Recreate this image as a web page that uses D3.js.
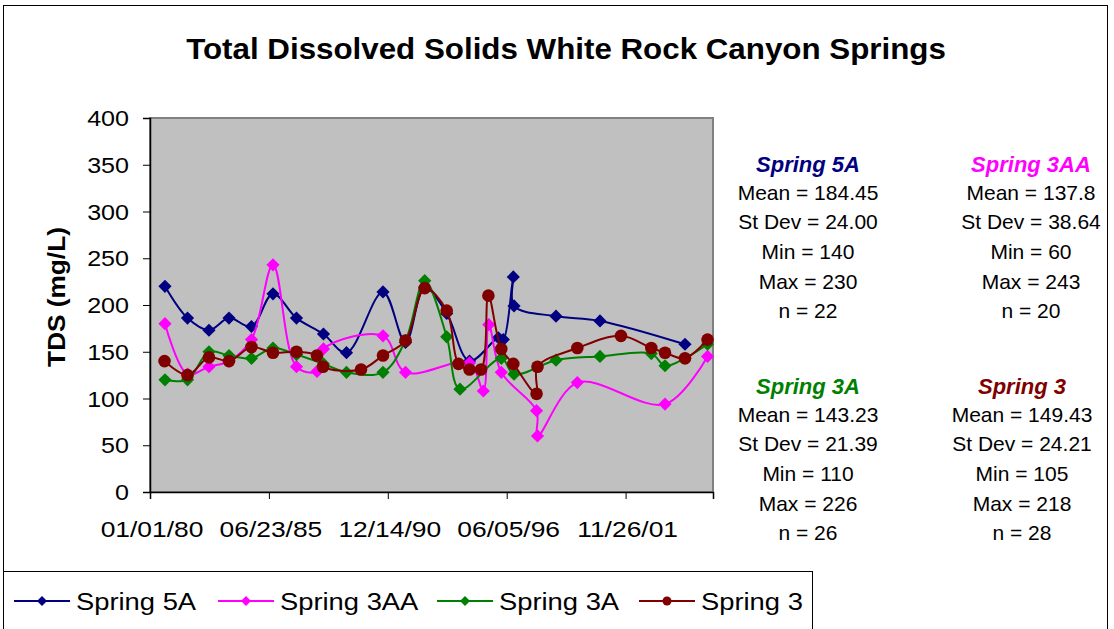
<!DOCTYPE html>
<html>
<head>
<meta charset="utf-8">
<style>
  body { margin: 0; background: #fff; }
  svg { display: block; font-family: "Liberation Sans", Arial, sans-serif; }
</style>
</head>
<body>
<svg id="chart"></svg>
<script src="https://d3js.org/d3.v7.min.js"></script>
<script>

// ---- data ----
const seriesNames = ["Spring 5A", "Spring 3AA", "Spring 3A", "Spring 3"];
const seriesColors = ["#000080", "#ff00ff", "#008000", "#800000"];
const seriesShapes = ["diamond", "diamond", "diamond", "circle"];

const spring5A = [
  ["1980-09-09", 220], ["1981-09-23", 186], ["1982-09-19", 173], ["1983-08-22", 186],
  ["1984-09-03", 177], ["1985-08-31", 212], ["1986-09-30", 186], ["1987-12-28", 169],
  ["1989-01-18", 149], ["1990-09-24", 214], ["1991-10-08", 160], ["1992-08-26", 219],
  ["1993-08-31", 191], ["1994-09-18", 140], ["1996-01-16", 165], ["1996-04-09", 163],
  ["1996-09-24", 230], ["1996-10-06", 199], ["1998-09-12", 188], ["2000-09-21", 183],
  ["2004-08-21", 158]
];
const spring3AA = [
  ["1980-09-09", 180], ["1981-09-23", 126], ["1982-09-19", 134], ["1983-08-22", 140],
  ["1984-09-03", 163], ["1985-08-31", 243], ["1986-09-30", 134], ["1987-09-10", 129],
  ["1987-12-28", 153], ["1990-09-24", 167], ["1991-10-08", 128], ["1994-09-18", 138],
  ["1995-05-09", 108], ["1995-08-09", 179], ["1996-03-06", 128], ["1997-10-20", 87],
  ["1997-11-05", 60], ["1999-09-06", 117], ["2003-09-20", 94], ["2005-09-04", 145]
];
const spring3A = [
  ["1980-09-09", 120], ["1981-09-23", 120], ["1982-09-19", 150], ["1983-08-22", 146],
  ["1984-09-03", 143], ["1985-08-31", 154], ["1986-09-30", 147], ["1987-12-28", 137],
  ["1989-01-18", 128], ["1990-09-24", 128], ["1991-10-08", 162], ["1992-08-26", 226],
  ["1993-08-31", 166], ["1994-04-11", 110], ["1996-03-06", 143], ["1996-10-06", 126],
  ["1998-09-12", 141], ["2000-09-21", 145], ["2003-02-01", 148], ["2003-09-20", 135],
  ["2004-08-21", 143], ["2005-09-04", 158]
];
const spring3 = [
  ["1980-09-01", 140], ["1981-09-23", 125], ["1982-09-19", 144], ["1983-08-22", 140],
  ["1984-09-03", 155], ["1985-08-31", 149], ["1986-09-30", 150], ["1987-09-10", 146],
  ["1987-12-20", 134], ["1989-09-19", 131], ["1990-09-24", 146], ["1991-10-08", 162],
  ["1992-08-26", 218], ["1993-08-31", 194], ["1994-03-17", 137], ["1994-09-18", 131],
  ["1995-03-31", 131], ["1995-08-02", 210], ["1996-03-06", 153], ["1996-09-24", 137],
  ["1997-10-20", 105], ["1997-11-05", 134], ["1999-09-06", 154], ["2001-09-09", 167],
  ["2003-02-01", 154], ["2003-09-20", 149], ["2004-08-21", 143], ["2005-09-04", 163]
];
const allSeries = [spring5A, spring3AA, spring3A, spring3];

const statLabels = ["Mean", "St Dev", "Min", "Max", "n"];
const spring5AStats = ["184.45", "24.00", "140", "230", "22"];
const spring3AAStats = ["137.8", "38.64", "60", "243", "20"];
const spring3AStats = ["143.23", "21.39", "110", "226", "26"];
const spring3Stats = ["149.43", "24.21", "105", "218", "28"];

const xDomain = ["1980-01-01", "2005-12-05"];
const xTicks = ["1980-01-01", "1985-06-23", "1990-12-14", "1996-06-05", "2001-11-26"];
const yTicks = [0, 50, 100, 150, 200, 250, 300, 350, 400];

// ---- layout ----
const width = 1114, height = 629;
const plot = {left: 150, right: 713, top: 118, bottom: 492};
const kx = 1.14;   // excel text looks a bit stretched sideways

const parse = d3.utcParse("%Y-%m-%d");
const fmt = d3.utcFormat("%m/%d/%y");

const svg = d3.select("#chart")
    .attr("width", width)
    .attr("height", height);

// outer chart frame
svg.append("rect")
    .attr("x", 3.5).attr("y", 5.5)
    .attr("width", 1104).attr("height", 640)
    .attr("fill", "#fff")
    .attr("stroke", "#000");

svg.append("text")
    .attr("transform", `translate(566,59) scale(1.08,1)`)
    .attr("text-anchor", "middle")
    .attr("font-size", 29)
    .attr("font-weight", "bold")
    .text("Total Dissolved Solids White Rock Canyon Springs");

let x = d3.scaleUtc()
    .domain(xDomain.map(parse))
    .range([plot.left, plot.right]);

let y = d3.scaleLinear()
    .domain([0, 400])
    .range([plot.bottom, plot.top]);

svg.append("rect")
    .attr("x", plot.left).attr("y", plot.top)
    .attr("width", plot.right - plot.left)
    .attr("height", plot.bottom - plot.top)
    .attr("fill", "#c0c0c0")
    .attr("stroke", "#808080")
    .attr("stroke-width", 2);

// y axis
let yAxis = svg.append("g")
    .attr("transform", `translate(${plot.left},0)`)
    .call(d3.axisLeft(y).tickValues(yTicks).tickSize(7).tickFormat(""));
yAxis.select(".domain").attr("stroke", "#000").attr("stroke-width", 1.5);

svg.append("g").selectAll("text")
    .data(yTicks)
    .enter()
    .append("text")
    .attr("transform", d => `translate(129,${y(d) + 8}) scale(${kx},1)`)
    .attr("text-anchor", "end")
    .attr("font-size", 22)
    .text(d => d);

// x axis
let xAxis = svg.append("g")
    .attr("transform", `translate(0,${plot.bottom})`)
    .call(d3.axisBottom(x).tickValues(xTicks.map(parse)).tickSize(7).tickFormat(""));
xAxis.select(".domain").attr("stroke", "#000").attr("stroke-width", 1.5);

svg.append("g").selectAll("text")
    .data(xTicks.map(parse))
    .enter()
    .append("text")
    .attr("transform", d => `translate(${x(d) + 2},537) scale(1.2,1)`)
    .attr("text-anchor", "middle")
    .attr("font-size", 22)
    .text(d => fmt(d));

svg.append("text")
    .attr("transform", `translate(65,297) rotate(-90) scale(${kx},1)`)
    .attr("text-anchor", "middle")
    .attr("font-size", 23)
    .attr("font-weight", "bold")
    .text("TDS (mg/L)");

function marker(sel, shape, r) {
  if (shape === "circle") {
    sel.append("circle").attr("r", r);
  } else {
    sel.append("path").attr("d", `M0,${-r}L${r},0L0,${r}L${-r},0Z`);
  }
}

let line = d3.line()
    .x(d => x(parse(d[0])))
    .y(d => y(d[1]))
    .curve(d3.curveCatmullRom.alpha(0.5));

allSeries.forEach((data, i) => {
  let g = svg.append("g").attr("fill", seriesColors[i]);
  g.append("path")
      .attr("d", line(data))
      .attr("fill", "none")
      .attr("stroke", seriesColors[i])
      .attr("stroke-width", 2);
  g.selectAll("g")
      .data(data)
      .enter()
      .append("g")
      .attr("transform", d => `translate(${x(parse(d[0]))},${y(d[1])})`)
      .each(function() { marker(d3.select(this), seriesShapes[i], seriesShapes[i] === "circle" ? 6.3 : 6.6); });
});

// stats boxes
const statBlocks = [
  {stats: spring5AStats, cx: 808, top: 172},
  {stats: spring3AAStats, cx: 1031, top: 172},
  {stats: spring3AStats, cx: 808, top: 394},
  {stats: spring3Stats, cx: 1022, top: 394}
];
statBlocks.forEach((b, i) => {
  let g = svg.append("g").attr("text-anchor", "middle");
  g.append("text")
      .attr("x", b.cx).attr("y", b.top)
      .attr("font-size", 22)
      .attr("font-weight", "bold")
      .attr("font-style", "italic")
      .attr("fill", seriesColors[i])
      .text(seriesNames[i]);
  g.selectAll(".stat")
      .data(b.stats)
      .enter()
      .append("text")
      .attr("class", "stat")
      .attr("x", b.cx)
      .attr("y", (d, j) => b.top + 27.5 + j * 29.7)
      .attr("font-size", 21)
      .text((d, j) => statLabels[j] + " = " + d);
});

// legend
svg.append("rect")
    .attr("x", 3.5).attr("y", 571.5)
    .attr("width", 809).attr("height", 80)
    .attr("fill", "#fff")
    .attr("stroke", "#000");

const legendX = [14, 218, 437, 639];
seriesNames.forEach((name, i) => {
  let g = svg.append("g").attr("transform", `translate(${legendX[i]},601)`);
  g.append("line")
      .attr("x1", 0).attr("x2", 56)
      .attr("stroke", seriesColors[i])
      .attr("stroke-width", 2);
  let m = g.append("g").attr("transform", "translate(28,0)").attr("fill", seriesColors[i]);
  marker(m, seriesShapes[i], seriesShapes[i] === "circle" ? 4.5 : 5);
  g.append("text")
      .attr("transform", `translate(62,9) scale(${kx},1)`)
      .attr("font-size", 24)
      .text(name);
});

</script>
</body>
</html>
